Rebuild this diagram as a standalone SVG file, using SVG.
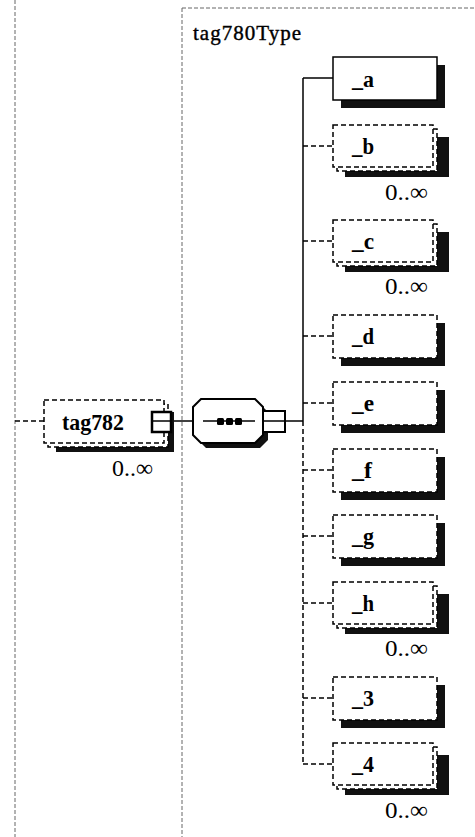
<svg xmlns="http://www.w3.org/2000/svg" width="475" height="837" viewBox="0 0 475 837">
<style>
.bg{fill:#fff}
.lbl{font-family:"Liberation Serif","Times New Roman",serif;fill:#000}
.name{font-size:23px;font-weight:bold}
.occ{font-size:24px}
.box{fill:#fff;stroke:#000;stroke-width:1.5}
.opt{stroke-dasharray:5,3}
.sh{fill:#111}
.ln{stroke:#000;stroke-width:1.5;fill:none}
.dl{stroke:#000;stroke-width:1.5;fill:none;stroke-dasharray:5,3}
.frame{stroke:#666;stroke-width:1;fill:none;stroke-dasharray:4,2}
</style>
<rect class="bg" x="0" y="0" width="475" height="837"/>
<g id="frames">
<line class="frame" x1="15" y1="0" x2="15" y2="837"/>
<line class="frame" x1="182" y1="8" x2="182" y2="837"/>
<line class="frame" x1="182" y1="8" x2="475" y2="8"/>
<text class="lbl" x="193" y="40" font-size="21" stroke="#000" stroke-width="0.4" textLength="108">tag780Type</text>
</g>
<g id="connectors">
<line class="dl" x1="15" y1="421" x2="44" y2="421"/>
<line class="ln" x1="172" y1="421" x2="193" y2="421"/>
<line class="ln" x1="285" y1="421" x2="303" y2="421"/>
<line class="ln" x1="303" y1="78" x2="303" y2="421"/>
<line class="dl" x1="303" y1="421" x2="303" y2="765"/>
<line class="ln" x1="303" y1="78" x2="333" y2="78"/>
<line class="dl" x1="303" y1="146" x2="333" y2="146"/>
<line class="dl" x1="303" y1="241" x2="333" y2="241"/>
<line class="dl" x1="303" y1="336" x2="333" y2="336"/>
<line class="dl" x1="303" y1="403" x2="333" y2="403"/>
<line class="dl" x1="303" y1="470" x2="333" y2="470"/>
<line class="dl" x1="303" y1="536" x2="333" y2="536"/>
<line class="dl" x1="303" y1="603" x2="333" y2="603"/>
<line class="dl" x1="303" y1="698" x2="333" y2="698"/>
<line class="dl" x1="303" y1="764" x2="333" y2="764"/>
</g>
<g id="tag782">
<rect class="sh" x="56" y="412" width="118" height="40"/>
<rect class="box opt" x="48" y="404" width="120" height="43"/>
<rect class="box opt" x="44" y="400" width="120" height="43"/>
<text class="lbl" x="62" y="430" font-size="23" font-weight="bold" textLength="62" lengthAdjust="spacingAndGlyphs">tag782</text>
<rect x="152" y="412" width="19" height="20" fill="#fff" stroke="#000" stroke-width="2.5"/>
<line class="ln" x1="152" y1="421" x2="172" y2="421"/>
<text class="lbl occ" x="112" y="476" textLength="41" lengthAdjust="spacingAndGlyphs">0..∞</text>
</g>
<g id="sequence">
<polygon class="sh" points="206,404 260,404 268,412 268,440 260,448 206,448 198,440 198,412"/>
<polygon points="201,399 255,399 263,407 263,435 255,443 201,443 193,435 193,407" fill="#fff" stroke="#000" stroke-width="2"/>
<line class="ln" x1="203" y1="421" x2="255" y2="421"/>
<rect x="217" y="418" width="7" height="7" rx="1.5" fill="#000"/>
<rect x="226" y="418" width="7" height="7" rx="1.5" fill="#000"/>
<rect x="235" y="418" width="7" height="7" rx="1.5" fill="#000"/>
<rect x="263" y="411" width="22" height="21" fill="#fff" stroke="#000" stroke-width="2"/>
<line class="ln" x1="263" y1="421" x2="285" y2="421"/>
</g>
<g id="el_a">
<rect class="sh" x="341" y="65" width="104" height="43"/>
<rect class="box" x="333" y="57" width="104" height="43" stroke-width="2"/>
<text class="lbl name" x="352" y="87" textLength="22" lengthAdjust="spacingAndGlyphs">_a</text>
</g>
<g id="el_b">
<rect class="sh" x="345" y="137" width="104" height="40"/>
<rect class="box opt" x="337" y="129" width="100" height="42"/>
<rect class="box opt" x="333" y="125" width="100" height="42"/>
<text class="lbl name" x="352" y="154" textLength="22" lengthAdjust="spacingAndGlyphs">_b</text>
<text class="lbl occ" x="385" y="200" textLength="43" lengthAdjust="spacingAndGlyphs">0..∞</text>
</g>
<g id="el_c">
<rect class="sh" x="345" y="232" width="104" height="40"/>
<rect class="box opt" x="337" y="224" width="100" height="42"/>
<rect class="box opt" x="333" y="220" width="100" height="42"/>
<text class="lbl name" x="352" y="249" textLength="22" lengthAdjust="spacingAndGlyphs">_c</text>
<text class="lbl occ" x="385" y="294" textLength="43" lengthAdjust="spacingAndGlyphs">0..∞</text>
</g>
<g id="el_d">
<rect class="sh" x="341" y="323" width="104" height="43"/>
<rect class="box opt" x="333" y="315" width="104" height="43"/>
<text class="lbl name" x="352" y="344" textLength="22" lengthAdjust="spacingAndGlyphs">_d</text>
</g>
<g id="el_e">
<rect class="sh" x="341" y="390" width="104" height="43"/>
<rect class="box opt" x="333" y="382" width="104" height="43"/>
<text class="lbl name" x="352" y="411" textLength="22" lengthAdjust="spacingAndGlyphs">_e</text>
</g>
<g id="el_f">
<rect class="sh" x="341" y="457" width="104" height="43"/>
<rect class="box opt" x="333" y="449" width="104" height="43"/>
<text class="lbl name" x="352" y="478" textLength="20" lengthAdjust="spacingAndGlyphs">_f</text>
</g>
<g id="el_g">
<rect class="sh" x="341" y="523" width="104" height="43"/>
<rect class="box opt" x="333" y="515" width="104" height="43"/>
<text class="lbl name" x="352" y="544" textLength="22" lengthAdjust="spacingAndGlyphs">_g</text>
</g>
<g id="el_h">
<rect class="sh" x="345" y="594" width="104" height="40"/>
<rect class="box opt" x="337" y="586" width="100" height="42"/>
<rect class="box opt" x="333" y="582" width="100" height="42"/>
<text class="lbl name" x="352" y="611" textLength="22" lengthAdjust="spacingAndGlyphs">_h</text>
<text class="lbl occ" x="385" y="656" textLength="43" lengthAdjust="spacingAndGlyphs">0..∞</text>
</g>
<g id="el_3">
<rect class="sh" x="341" y="685" width="104" height="43"/>
<rect class="box opt" x="333" y="677" width="104" height="43"/>
<text class="lbl name" x="352" y="706" textLength="22" lengthAdjust="spacingAndGlyphs">_3</text>
</g>
<g id="el_4">
<rect class="sh" x="345" y="755" width="104" height="40"/>
<rect class="box opt" x="337" y="747" width="100" height="42"/>
<rect class="box opt" x="333" y="743" width="100" height="42"/>
<text class="lbl name" x="352" y="772" textLength="22" lengthAdjust="spacingAndGlyphs">_4</text>
<text class="lbl occ" x="385" y="818" textLength="43" lengthAdjust="spacingAndGlyphs">0..∞</text>
</g>
</svg>
